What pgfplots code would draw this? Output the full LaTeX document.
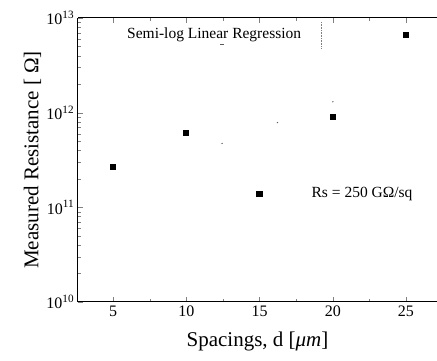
\documentclass[border=0pt]{standalone}
\usepackage{fontspec}
\setmainfont{Liberation Serif}
\usepackage{pgfplots}
\pgfplotsset{compat=1.18}
\begin{document}
\begin{tikzpicture}
\begin{semilogyaxis}[
  scale only axis,
  width=359pt, height=284pt,
  xmin=2.6, xmax=27.12,
  ymin=1e10, ymax=1e13,
  axis y line*=left,
  xtick={5,10,15,20,25},
  minor xtick={7.5,12.5,17.5,22.5},
  ytick={1e10,1e11,1e12,1e13},
  minor ytick={2e10,3e10,4e10,5e10,6e10,7e10,8e10,9e10,2e11,3e11,4e11,5e11,6e11,7e11,8e11,9e11,2e12,3e12,4e12,5e12,6e12,7e12,8e12,9e12},
  yticklabels={10\textsuperscript{10},10\textsuperscript{11},10\textsuperscript{12},10\textsuperscript{13}},
  tick align=inside,
  major tick length=5pt, minor tick length=3pt,
  /pgf/number format/assume math mode=true,
  ticklabel style={font=\fontsize{16}{18}\selectfont},
  label style={font=\fontsize{21}{24}\selectfont},
  xlabel={Spacings, d [\textit{μm}]},
  ylabel={Measured Resistance [ Ω]},
  xlabel style={yshift=-8pt},
  ylabel style={yshift=-2pt},
  line width=1pt,
  clip=false,
]
\addplot[only marks, mark=square*, mark size=2.6pt, black] coordinates {
  (5,2.67e11) (10,6.1e11) (15,1.39e11) (20,9.0e11) (25,6.6e12)
};
\addplot[gray!70!black, line width=0.9pt, dash pattern=on 1.2pt off 58pt] coordinates {
  (12.4,4.7e11) (20.1,1.32e12)
};
\addplot[gray!70!black, line width=0.8pt] coordinates {
  (12.3,5.3e12) (12.55,5.3e12)
};
\addplot[gray, line width=0.6pt, densely dotted] coordinates {
  (19.25,9.07e12) (19.25,4.82e12)
};
\node[font=\fontsize{15.5}{17}\selectfont] at (axis cs:11.9,6.6e12) {Semi-log Linear Regression};
\node[font=\fontsize{15.5}{17}\selectfont] at (axis cs:22.0,1.38e11) {Rs = 250 GΩ/sq};
\end{semilogyaxis}
\pgfresetboundingbox
\path[use as bounding box] (current axis.south west) ++(-78pt,-58pt) rectangle ++(437pt,360pt);
\end{tikzpicture}
\end{document}
